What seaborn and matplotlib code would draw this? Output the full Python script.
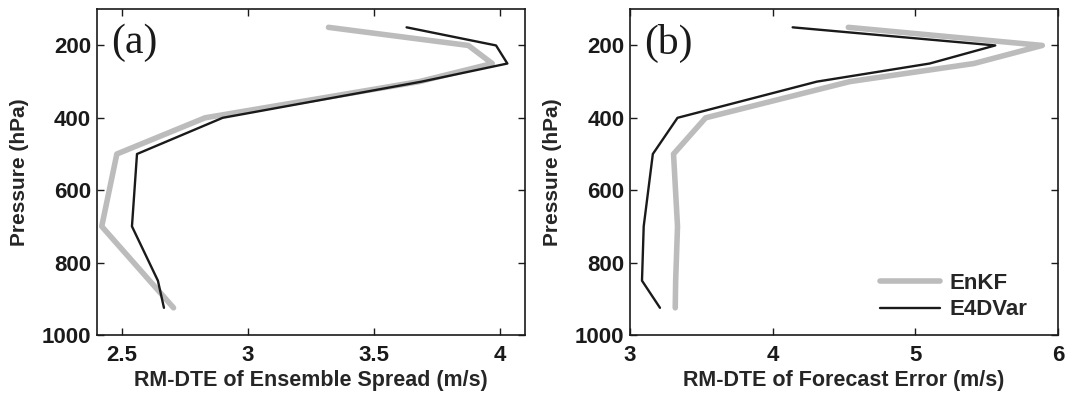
import matplotlib
matplotlib.use("Agg")
import matplotlib.pyplot as plt
import seaborn as sns
import pandas as pd

sns.set_theme(style="white")
plt.rcParams['font.family'] = ['Liberation Sans', 'DejaVu Sans']

pressure = [150, 200, 250, 300, 400, 500, 700, 850, 925]
enkf_spread = [3.32, 3.875, 3.97, 3.68, 2.83, 2.48, 2.42, 2.61, 2.705]
e4dvar_spread = [3.63, 3.985, 4.03, 3.69, 2.90, 2.56, 2.54, 2.643, 2.667]
enkf_error = [4.53, 5.89, 5.41, 4.54, 3.53, 3.305, 3.333, 3.32, 3.317]
e4dvar_error = [4.14, 5.56, 5.10, 4.31, 3.333, 3.16, 3.096, 3.084, 3.21]

series_names = ["EnKF", "E4DVar"]
panel_labels = ["(a)", "(b)"]
xlabels = ["RM-DTE of Ensemble Spread (m/s)", "RM-DTE of Forecast Error (m/s)"]
xticks_a = [2.5, 3, 3.5, 4]
xticks_b = [3, 4, 5, 6]
yticks = [200, 400, 600, 800, 1000]

fig = plt.figure(figsize=(10.66, 3.95), dpi=100)
ax_a = fig.add_axes([0.0907, 0.152, 0.4018, 0.8246])
ax_b = fig.add_axes([0.591, 0.152, 0.4015, 0.8246])

styles = {"EnKF": dict(color="#bcbcbc", lw=4.0), "E4DVar": dict(color="#1a1a1a", lw=1.7)}

panels = [
    (ax_a, [enkf_spread, e4dvar_spread], xticks_a, (2.4, 4.1)),
    (ax_b, [enkf_error, e4dvar_error], xticks_b, (3, 6)),
]

for i, (ax, vals, xt, xl) in enumerate(panels):
    for name, v in zip(series_names, vals):
        df = pd.DataFrame({"value": v, "pressure": pressure})
        sns.lineplot(data=df, x="value", y="pressure", sort=False, estimator=None,
                     ax=ax, label=name, color=styles[name]["color"],
                     linewidth=styles[name]["lw"])
    ax.set_xlim(*xl)
    ax.set_ylim(1000, 100)
    ax.set_xticks(xt)
    ax.set_xticklabels([f"{t:g}" for t in xt])
    ax.set_yticks(yticks)
    ax.set_xlabel(xlabels[i], fontsize=15.5, fontweight="bold", labelpad=3)
    ax.set_ylabel("Pressure (hPa)", fontsize=15, fontweight="bold")
    ax.yaxis.set_label_coords(-0.158, 0.5)
    ax.tick_params(direction="in", length=5, width=1.0, top=True, right=True,
                   bottom=True, left=True, labelsize=16, colors="#1a1a1a")
    ax.tick_params(axis="x", pad=7)
    ax.tick_params(axis="y", pad=4)
    for lab in ax.get_xticklabels() + ax.get_yticklabels():
        lab.set_fontweight("bold")
    for sp in ax.spines.values():
        sp.set_linewidth(1.2)
        sp.set_color("#1a1a1a")
    ax.text(0.033, 0.955, panel_labels[i], transform=ax.transAxes, ha="left", va="top",
            fontsize=30, family=["Liberation Serif", "DejaVu Serif"], color="#1a1a1a")
    if i == 0:
        ax.get_legend().remove()
    else:
        leg = ax.legend(loc="lower right", bbox_to_anchor=(0.928, 0.045), frameon=False,
                        fontsize=16, handlelength=2.7, borderaxespad=0, borderpad=0,
                        handletextpad=0.4, labelspacing=0.25)
        for t in leg.get_texts():
            t.set_fontweight("bold")

fig.savefig("out.png", dpi=100)
